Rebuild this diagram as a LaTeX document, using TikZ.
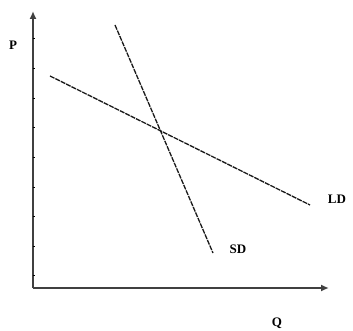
\documentclass[tikz,border=0pt]{standalone}
\usepackage{fontspec}
\setmainfont{Liberation Serif}
\usetikzlibrary{arrows.meta}
\begin{document}
\begin{tikzpicture}[x=1pt,y=-1pt,
  axisline/.style={line width=1.8pt,draw=black!75,-{Latex[length=8pt,width=7pt]}},
  curveline/.style={line width=1.3pt,draw=black!90,dash pattern=on 5pt off 1pt},
  tickmark/.style={line width=1pt,black},
  lbl/.style={font=\bfseries\fontsize{13}{13}\selectfont,inner sep=0pt}]
\useasboundingbox (0,0) rectangle (353,331);
\coordinate (o) at (33,288);
\coordinate (ytip) at (33,11);
\coordinate (xtip) at (329,288);
\draw[axisline] (o) -- (ytip);
\draw[axisline] (o) -- (xtip);
\foreach \t in {39,68.6,98.2,127.8,157.4,187,216.6,246.2,275.8}
  \draw[tickmark] (32.5,\t) -- (34.5,\t);
\coordinate (ld1) at (50,76);
\coordinate (ld2) at (310,205);
\coordinate (sd1) at (115,25);
\coordinate (sd2) at (213,253);
\draw[curveline] (ld1) -- (ld2);
\draw[curveline] (sd1) -- (sd2);
\node[lbl] (p) at (13,45) {P};
\node[lbl] (q) at (277,323) {Q};
\node[lbl] (ldl) at (337,199) {LD};
\node[lbl] (sdl) at (238,249) {SD};
\end{tikzpicture}
\end{document}
